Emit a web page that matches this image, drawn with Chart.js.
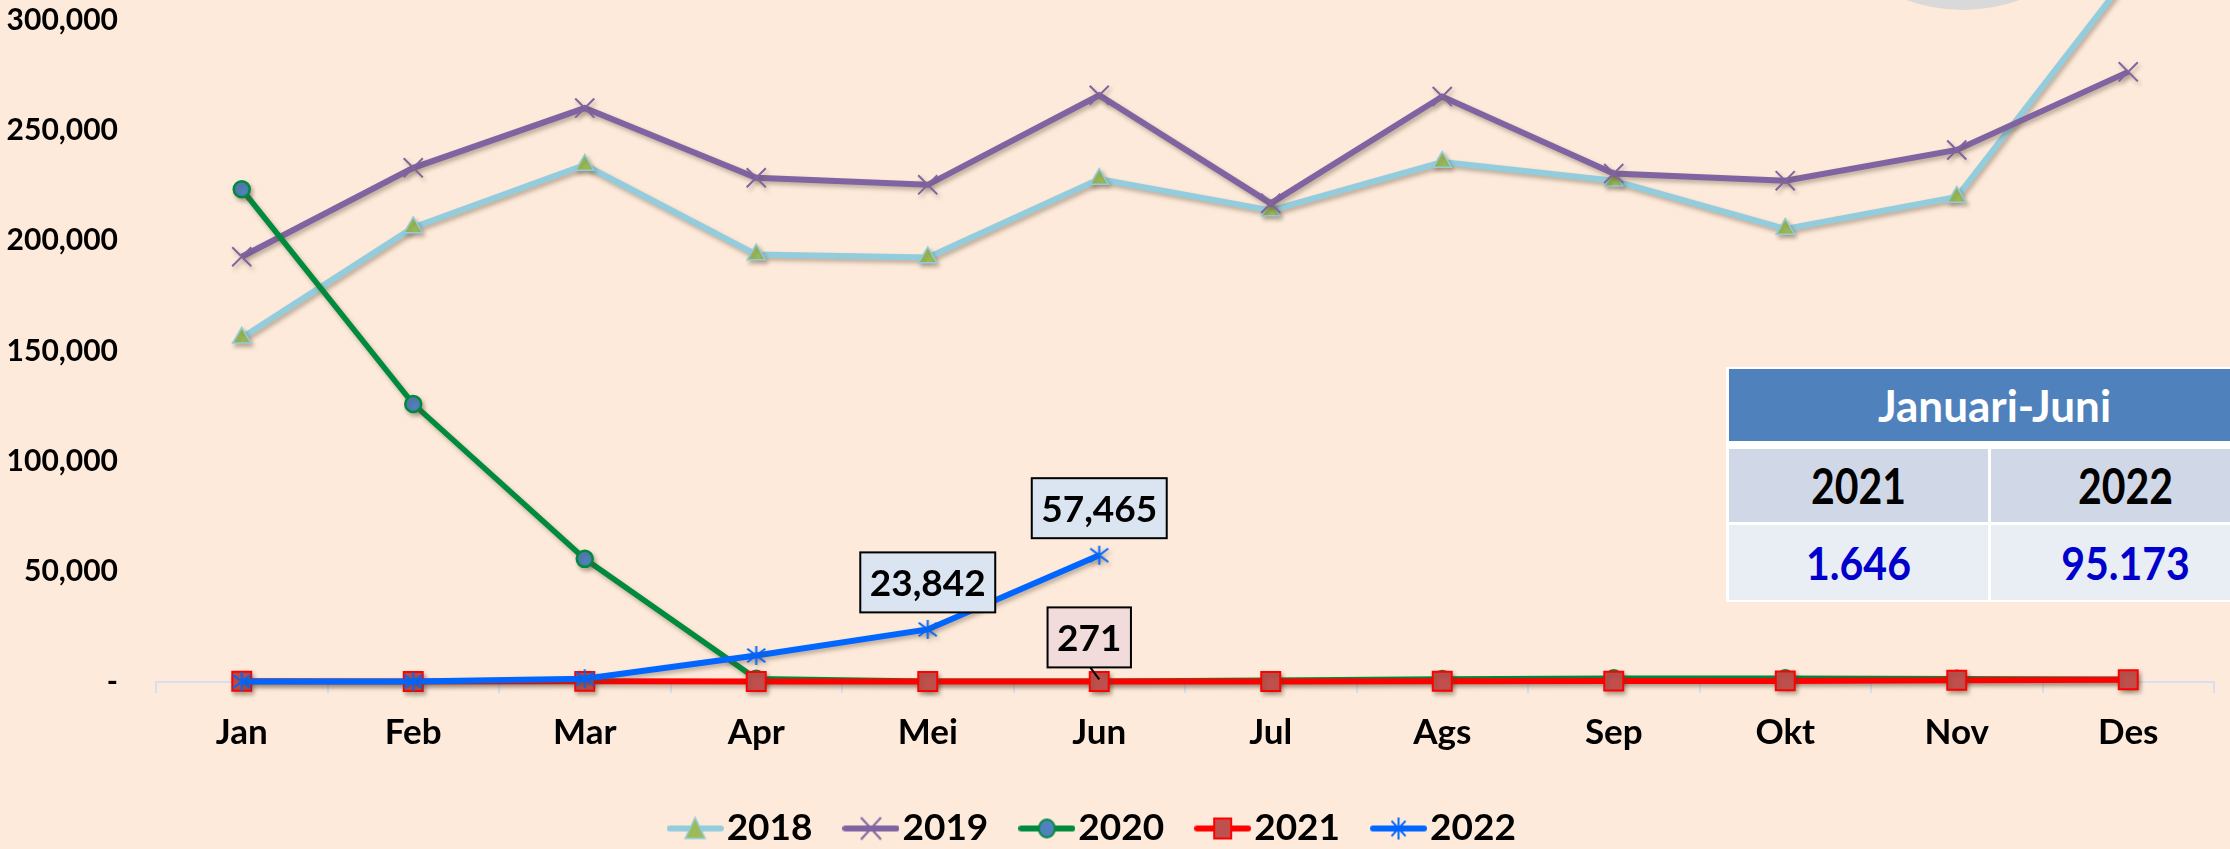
<!DOCTYPE html>
<html>
<head>
<meta charset="utf-8">
<script src="https://cdn.jsdelivr.net/npm/chart.js@4.4.1/dist/chart.umd.min.js"></script>
<style>
html,body{margin:0;padding:0;background:#fdeada;overflow:hidden;}
#wrap{position:relative;width:2230px;height:849px;overflow:hidden;}
#deco{position:absolute;left:1798px;top:-320px;width:330px;height:330px;border-radius:50%;background:#d9d9d9;}
#c{position:absolute;left:0;top:0;}
#tbl{position:absolute;left:1726px;top:367px;width:540px;height:235px;background:#ffffff;}
.cell{position:absolute;display:flex;align-items:center;justify-content:center;font-family:Lato,"Open Sans",sans-serif;font-weight:bold;white-space:nowrap;}
.hdr{background:#4f81bd;color:#ffffff;font-size:44px;}
.yr{background:#d0d8e8;color:#000000;font-size:41px;}
.val{background:#e9edf4;color:#0000cc;font-size:41px;}
.yr span{display:inline-block;transform:scaleY(1.2);}
.val span{display:inline-block;transform:scaleY(1.12);}
</style>
</head>
<body>
<div id="wrap">
  <div id="deco"></div>
  <canvas id="c" width="2230" height="849"></canvas>
  <div id="tbl"></div>
</div>
<script>
// ---- data ----
const months = ['Jan','Feb','Mar','Apr','Mei','Jun','Jul','Ags','Sep','Okt','Nov','Des'];
const seriesNames = ['2018','2019','2020','2021','2022'];
const v2018 = [156000, 206000, 234300, 193700, 192400, 227900, 213700, 235600, 227200, 205300, 219800, 320000];
const v2019 = [192700, 233000, 260100, 228500, 225300, 265900, 216900, 265300, 230400, 227200, 241100, 276500];
const v2020 = [223300, 126000, 55800, 1500, 300, 350, 800, 1400, 1700, 1700, 1500, 1300];
const v2021 = [320, 260, 290, 250, 255, 271, 200, 300, 400, 500, 800, 1000];
const v2022 = [200, 180, 1476, 12010, 23842, 57465];
const yTickValues = [0, 50000, 100000, 150000, 200000, 250000, 300000];
const tableHeader = 'Januari-Juni';
const tableYears = ['2021', '2022'];
const tableTotals = ['1.646', '95.173'];

// ---- table overlay ----
(function buildTable(){
  const t = document.getElementById('tbl');
  function cell(cls, text, l, tp, w, h){
    const d = document.createElement('div');
    d.className = 'cell ' + cls;
    d.style.left = l + 'px'; d.style.top = tp + 'px';
    d.style.width = w + 'px'; d.style.height = h + 'px';
    const s = document.createElement('span'); s.textContent = text; d.appendChild(s);
    t.appendChild(d);
  }
  cell('hdr', tableHeader, 3, 2, 531, 72);
  cell('yr', tableYears[0], 3, 82, 259, 73);
  cell('yr', tableYears[1], 265, 82, 269, 73);
  cell('val', tableTotals[0], 3, 158, 259, 75);
  cell('val', tableTotals[1], 265, 158, 269, 75);
})();

// ---- marker images ----
function asteriskImg(color, w, h, lw){
  const c = document.createElement('canvas'); c.width = w; c.height = h;
  const g = c.getContext('2d'); g.strokeStyle = color; g.lineWidth = lw;
  g.beginPath();
  g.moveTo(w/2, 1); g.lineTo(w/2, h-1);
  g.moveTo(1.5, h*0.18); g.lineTo(w-1.5, h*0.82);
  g.moveTo(w-1.5, h*0.18); g.lineTo(1.5, h*0.82);
  g.stroke();
  return c;
}
const asterisk = asteriskImg('#0066ff', 21, 21, 2);

function legendImg(kind, line, fill, stroke){
  const c = document.createElement('canvas'); c.width = 57; c.height = 30;
  const g = c.getContext('2d');
  g.lineCap = 'round'; g.strokeStyle = line; g.lineWidth = 6;
  g.beginPath(); g.moveTo(3, 15); g.lineTo(54, 15); g.stroke();
  const cx = 28.5, cy = 15;
  g.lineCap = 'butt';
  g.fillStyle = fill; g.strokeStyle = stroke;
  if (kind === 'triangle') {
    g.lineWidth = 1.5; g.beginPath(); g.moveTo(cx, 4); g.lineTo(cx+10, 25); g.lineTo(cx-10, 25); g.closePath(); g.fill(); g.stroke();
  } else if (kind === 'x') {
    g.lineWidth = 2; g.beginPath(); g.moveTo(cx-10, cy-11); g.lineTo(cx+10, cy+11); g.moveTo(cx+10, cy-11); g.lineTo(cx-10, cy+11); g.stroke();
  } else if (kind === 'circle') {
    g.lineWidth = 2; g.beginPath(); g.ellipse(cx, cy, 8, 9, 0, 0, Math.PI*2); g.fill(); g.stroke();
  } else if (kind === 'rect') {
    g.lineWidth = 2; g.beginPath(); g.rect(cx-8.5, cy-10, 17, 20); g.fill(); g.stroke();
  } else if (kind === 'star') {
    g.drawImage(asteriskImg(stroke, 17, 24, 2), cx-8.5, cy-12);
  }
  return c;
}

const legendImgs = [
  legendImg('triangle', '#93cddd', '#9bbb59', '#93cddd'),
  legendImg('x', '#8064a2', '#8064a2', '#8064a2'),
  legendImg('circle', '#008a3e', '#4f81bd', '#008a3e'),
  legendImg('rect', '#ff0000', '#c0504d', '#ff0000'),
  legendImg('star', '#0066ff', '#0066ff', '#0066ff')
];

// ---- plugins ----
const shadowPlugin = {
  id: 'lineShadow',
  beforeDatasetDraw(chart){
    const c = chart.ctx; c.save();
    c.shadowColor = 'rgba(90,70,50,0.38)'; c.shadowBlur = 4; c.shadowOffsetX = 2; c.shadowOffsetY = 3;
  },
  afterDatasetDraw(chart){ chart.ctx.restore(); }
};

const callouts = [
  {series: '2022', month: 'Mei', fill: '#dbe5f1', dx: 0, gap: 17, leader: false},
  {series: '2022', month: 'Jun', fill: '#dbe5f1', dx: 0, gap: 17, leader: false},
  {series: '2021', month: 'Jun', fill: '#f2dcdb', dx: -10, gap: 14, leader: true}
];
const calloutPlugin = {
  id: 'callouts',
  afterDatasetsDraw(chart){
    const ctx = chart.ctx;
    callouts.forEach(co => {
      const di = seriesNames.indexOf(co.series);
      const i = months.indexOf(co.month);
      const el = chart.getDatasetMeta(di).data[i];
      const v = chart.data.datasets[di].data[i];
      const text = v.toLocaleString('en-US');
      ctx.save();
      ctx.font = 'bold 37px Lato';
      const w = ctx.measureText(text).width + 19, h = 60;
      const cx = el.x + co.dx, bottom = el.y - co.gap, top = bottom - h;
      ctx.fillStyle = co.fill; ctx.fillRect(cx - w/2, top, w, h);
      ctx.strokeStyle = '#000'; ctx.lineWidth = 2; ctx.strokeRect(cx - w/2, top, w, h);
      if (co.leader) {
        ctx.beginPath(); ctx.moveTo(cx + 1, bottom); ctx.lineTo(el.x, el.y - 2); ctx.stroke();
      }
      ctx.fillStyle = '#000'; ctx.textAlign = 'center'; ctx.textBaseline = 'middle';
      ctx.fillText(text, cx, top + h/2 + 2);
      ctx.restore();
    });
  }
};

function build(){
  const mk = (label, data, color, width, extra, order) => Object.assign({
    label, data, borderColor: color, backgroundColor: color, borderWidth: width,
    tension: 0, fill: false, clip: false, order
  }, extra);

  const datasets = [
    mk('2018', v2018, '#93cddd', 6, {pointStyle: 'triangle', pointRadius: 10.5, pointBackgroundColor: '#9bbb59', pointBorderColor: '#93cddd', pointBorderWidth: 1.5}, 5),
    mk('2019', v2019, '#8064a2', 6, {pointStyle: 'crossRot', pointRadius: 13.5, pointBackgroundColor: '#8064a2', pointBorderColor: '#8064a2', pointBorderWidth: 2}, 4),
    mk('2020', v2020, '#008a3e', 5.5, {pointStyle: 'circle', pointRadius: 8, pointBackgroundColor: '#4f81bd', pointBorderColor: '#008a3e', pointBorderWidth: 2.5}, 3),
    mk('2021', v2021, '#ff0000', 6, {pointStyle: 'rect', pointRadius: 13.4, pointBackgroundColor: '#c0504d', pointBorderColor: '#ff0000', pointBorderWidth: 2}, 2),
    mk('2022', v2022, '#0066ff', 6, {pointStyle: asterisk, pointRadius: 10}, 1)
  ];

  new Chart(document.getElementById('c'), {
    type: 'line',
    data: {labels: months, datasets},
    options: {
      responsive: false,
      animation: false,
      layout: {padding: {left: -23, right: 9, top: 20, bottom: -8}},
      scales: {
        x: {
          offset: true,
          grid: {display: true, drawOnChartArea: false, drawTicks: true, tickLength: 11, color: '#d6dff0', lineWidth: 2, offset: true},
          border: {display: true, color: '#d6dff0', width: 2},
          ticks: {padding: 19, color: '#000', font: {family: 'Lato', weight: 'bold', size: 35}},
          afterFit: s => { s.height = 82.5; }
        },
        y: {
          min: 0, max: 300000,
          afterBuildTicks: s => { s.ticks = yTickValues.map(v => ({value: v})); },
          grid: {display: true, drawOnChartArea: false, drawTicks: true, tickLength: 36, color: 'rgba(0,0,0,0)'},
          border: {display: false},
          ticks: {padding: 2, color: '#000', font: {family: 'Lato', weight: 'bold', size: 30},
            callback: v => v === 0 ? '-' : Number(v).toLocaleString('en-US')},
          afterFit: s => { s.width = 179; }
        }
      },
      plugins: {
        tooltip: {enabled: false},
        legend: {
          position: 'bottom',
          labels: {
            usePointStyle: true, pointStyleWidth: 26, padding: 45.5, color: '#000',
            font: {family: 'Lato', weight: 'bold', size: 37},
            generateLabels: chart => chart.data.datasets.map((d, i) => ({
              text: d.label, pointStyle: legendImgs[i], datasetIndex: i, hidden: false,
              fillStyle: 'rgba(0,0,0,0)', strokeStyle: 'rgba(0,0,0,0)', lineWidth: 0, fontColor: '#000'
            }))
          }
        }
      }
    },
    plugins: [shadowPlugin, calloutPlugin]
  });
}

if (document.fonts && document.fonts.load) {
  Promise.all([document.fonts.load('bold 37px Lato'), document.fonts.load('bold 30px Lato')]).then(build, build);
} else { build(); }
</script>
</body>
</html>
